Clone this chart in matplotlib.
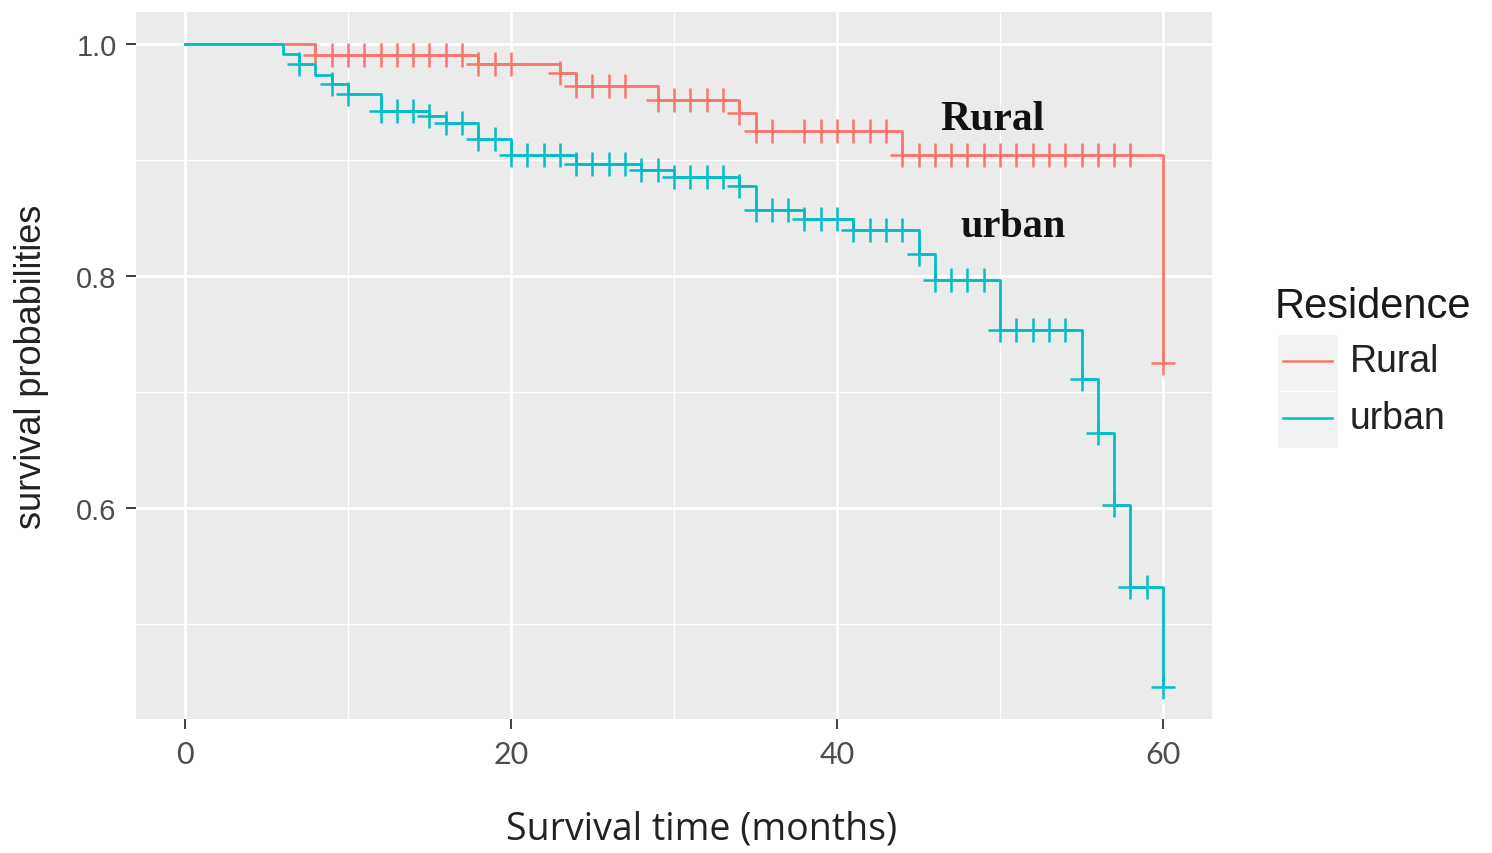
import numpy as np
import matplotlib
matplotlib.use("Agg")
import matplotlib.pyplot as plt
from matplotlib.patches import Rectangle
from matplotlib.lines import Line2D

# --- Kaplan-Meier curves (months, survival) ---
rural_times = [0, 8, 18, 23, 24, 29, 34, 35, 44, 60]
rural_surv = [1.0, 0.991, 0.983, 0.975, 0.964, 0.952, 0.941, 0.925, 0.905, 0.725]
rural_censor = [8, 9, 10, 11, 12, 13, 14, 15, 16, 17, 18, 19, 20, 23, 24, 25, 26, 27,
                29, 30, 31, 32, 33, 34, 35, 36, 38, 39, 40, 41, 42, 43, 44, 45, 46,
                47, 48, 49, 50, 51, 52, 53, 54, 55, 56, 57, 58, 60]

urban_times = [0, 6, 7, 8, 9, 10, 12, 15, 16, 18, 20, 24, 28, 30, 34, 35, 38, 41,
               45, 46, 50, 55, 56, 57, 58, 60]
urban_surv = [1.0, 0.992, 0.983, 0.974, 0.966, 0.957, 0.943, 0.938, 0.932, 0.918,
              0.905, 0.897, 0.892, 0.886, 0.878, 0.857, 0.849, 0.840, 0.819, 0.797,
              0.754, 0.711, 0.665, 0.603, 0.532, 0.446]
urban_censor = [7, 9, 10, 12, 13, 14, 15, 16, 17, 18, 19, 20, 21, 22, 23, 24, 25, 26,
                27, 28, 29, 30, 31, 32, 33, 34, 35, 36, 37, 38, 39, 40, 41, 42, 43,
                44, 45, 46, 47, 48, 49, 50, 51, 52, 53, 54, 55, 56, 57, 58, 59, 60]

groups = ["Rural", "urban"]
colors = ["#F8766D", "#00BFC4"]


def surv_at(times, surv, t):
    idx = np.searchsorted(times, t, side="right") - 1
    return np.asarray(surv)[idx]


W, H = 1492, 854
fig = plt.figure(figsize=(W / 100, H / 100), dpi=100)
fig.patch.set_facecolor("white")

# panel in pixels: left 136, right 1212, top 13, bottom 720
ax = fig.add_axes([136 / W, 1 - 720 / H, (1212 - 136) / W, (720 - 13) / H])
ax.set_facecolor("#EBEBEB")
for s in ax.spines.values():
    s.set_visible(False)

ax.set_xlim(-3, 63)
ax.set_ylim(0.418, 1.028)
ax.set_xticks([0, 20, 40, 60])
ax.set_xticks([10, 30, 50], minor=True)
ax.set_yticks([0.6, 0.8, 1.0])
ax.set_yticks([0.5, 0.7, 0.9], minor=True)
ax.set_yticklabels(["0.6", "0.8", "1.0"])
ax.grid(which="major", color="white", linewidth=2.0)
ax.grid(which="minor", color="white", linewidth=1.0)
ax.set_axisbelow(True)
ax.tick_params(which="minor", length=0)
ax.tick_params(which="major", length=7, width=1.3, color="#333333")
ax.tick_params(axis="x", labelsize=22, labelcolor="#4D4D4D", pad=8)
ax.tick_params(axis="y", labelsize=21, labelcolor="#4D4D4D", pad=7)
for lab in ax.get_xticklabels():
    lab.set_family("Lato")
for lab in ax.get_yticklabels():
    lab.set_family("Liberation Sans")

data = [(rural_times, rural_surv, rural_censor), (urban_times, urban_surv, urban_censor)]
for (tt, ss, cc), col in zip(data, colors):
    ax.step(tt, ss, where="post", color=col, linewidth=2.0)
    cs = surv_at(tt, ss, cc)
    ax.plot(cc, cs, linestyle="none", marker="+", markersize=17,
            markeredgewidth=1.8, color=col)

ax.text(49.5, 0.936, "Rural", family="Liberation Serif", fontweight="bold",
        fontsize=30, color="#111111", ha="center", va="center")
ax.text(50.8, 0.843, "urban", family="Liberation Serif", fontweight="bold",
        fontsize=29, color="#111111", ha="center", va="center")

# axis titles
fig.text(702 / W, 1 - 830 / H, "Survival time (months)", family="Open Sans",
         fontsize=27, color="#222222", ha="center", va="center")
fig.text(32 / W, 1 - 367 / H, "survival probabilities", family="Liberation Sans",
         fontsize=26, color="#222222", ha="center", va="center", rotation=90)

# legend
fig.text(1275 / W, 1 - 307 / H, "Residence", family="Liberation Sans",
         fontsize=30, color="#1A1A1A", ha="left", va="center")
key_tops = [335, 392]
for i, (g, col) in enumerate(zip(groups, colors)):
    top = key_tops[i]
    fig.patches.append(Rectangle((1278 / W, 1 - (top + 57) / H), 60 / W, 56 / H,
                                 transform=fig.transFigure, facecolor="#F2F2F2",
                                 edgecolor="none"))
    yc = top + 27
    fig.lines.append(Line2D([1283 / W, 1332 / W], [1 - yc / H, 1 - yc / H],
                            transform=fig.transFigure, color=col, linewidth=1.8))
    fig.text(1350 / W, 1 - yc / H, g, family="Liberation Sans", fontsize=27,
             color="#222222", ha="left", va="center")

fig.savefig("out.png", dpi=100)
